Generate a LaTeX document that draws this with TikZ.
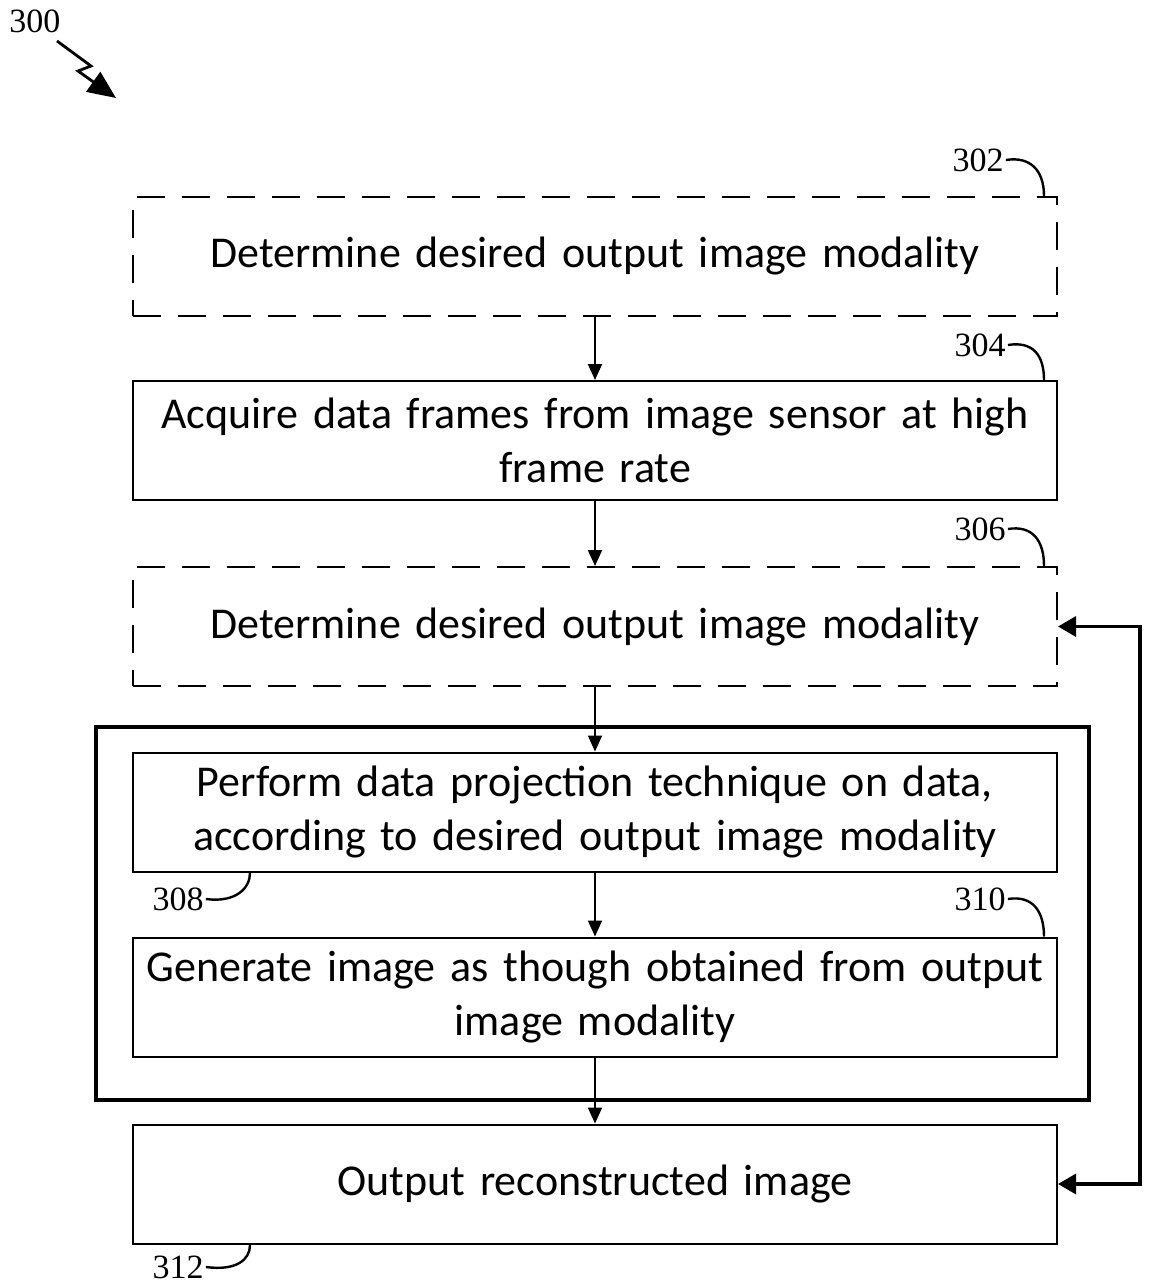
\documentclass[tikz,border=0pt]{standalone}
\usepackage{fontspec}
\setmainfont{Carlito}
\newfontfamily\numfont{Liberation Serif}
\usetikzlibrary{arrows.meta,calc}
\begin{document}
\begin{tikzpicture}[x=0.5pt,y=-0.5pt,
  stepbox/.style={draw,line width=1pt,minimum width=462pt,minimum height=59.5pt,
    text width=458pt,align=center,inner sep=0pt,
    font=\fontsize{22}{27}\selectfont},
  optbox/.style={stepbox,dash pattern=on 14pt off 8.5pt},
  flow/.style={line width=1pt,-{Triangle[width=7pt,length=8pt]}},
  back/.style={line width=1.6pt,-{Triangle[width=10pt,length=9pt]}},
  refnum/.style={font=\numfont\fontsize{17}{18}\selectfont,inner sep=1pt},
  leader/.style={line width=1.2pt}]
\useasboundingbox (0,0) rectangle (1160,1285);

% grouping frame around the projection and generation steps
\node[draw,line width=1.8pt,minimum width=496.5pt,minimum height=186.5pt,inner sep=0pt]
  (group) at (592.5,913.5) {};

% process steps (single-line texts get a small strut so they sit centred)
\node[optbox]  (b302) at (595,256.5) {\raisebox{-1.5pt}{Determine desired output image modality}};
\node[stepbox] (b304) at (595,440.5) {Acquire data frames from image sensor at high\\frame rate};
\node[optbox]  (b306) at (595,626.5) {\raisebox{-1.5pt}{Determine desired output image modality}};
\node[stepbox] (b308) at (595,812)   {Perform data projection technique on data,\\according to desired output image modality};
\node[stepbox] (b310) at (595,997)   {Generate image as though obtained from output\\image modality};
\node[stepbox] (b312) at (595,1184)  {\raisebox{-1.5pt}{Output reconstructed image}};

% flow between steps
\draw[flow] (b302) -- (b304);
\draw[flow] (b304) -- (b306);
\draw[flow] (b306) -- (b308);
\draw[flow] (b308) -- (b310);
\draw[flow] (b310) -- (b312);

% feedback path on the right
\coordinate (loop) at (1140,906);
\draw[back] (loop) |- (b306.east);
\draw[back] (loop) |- (b312.east);

% reference numerals with leader curves
\node[refnum] (n300) at (35,21) {300};
\coordinate (z0) at (57,41);
\coordinate (z1) at (91,66);
\coordinate (z2) at (78,71);
\coordinate (z3) at (116,98);
\draw[line width=1.4pt,-{Triangle[width=12pt,length=14pt]}] (z0) -- (z1) -- (z2) -- (z3);

\node[refnum] (n302) at (978,160) {302};
\coordinate (t302) at ($(b302.north east)+(-14,0)$);
\draw[leader] (n302.east) .. controls +(25,-4) and +(0,-25) .. (t302);

\node[refnum] (n304) at (980,345) {304};
\coordinate (t304) at ($(b304.north east)+(-14,0)$);
\draw[leader] (n304.east) .. controls +(25,-4) and +(0,-25) .. (t304);

\node[refnum] (n306) at (980,529) {306};
\coordinate (t306) at ($(b306.north east)+(-14,0)$);
\draw[leader] (n306.east) .. controls +(25,-4) and +(0,-25) .. (t306);

\node[refnum] (n310) at (980,899) {310};
\coordinate (t310) at ($(b310.north east)+(-14,0)$);
\draw[leader] (n310.east) .. controls +(25,-4) and +(0,-25) .. (t310);

\node[refnum] (n308) at (178,899) {308};
\coordinate (t308) at (250,873);
\draw[leader] (n308.east) .. controls +(30,4) and +(0,15) .. (t308);

\node[refnum] (n312) at (178,1267) {312};
\coordinate (t312) at (250,1245);
\draw[leader] (n312.east) .. controls +(30,4) and +(0,15) .. (t312);
\end{tikzpicture}
\end{document}
